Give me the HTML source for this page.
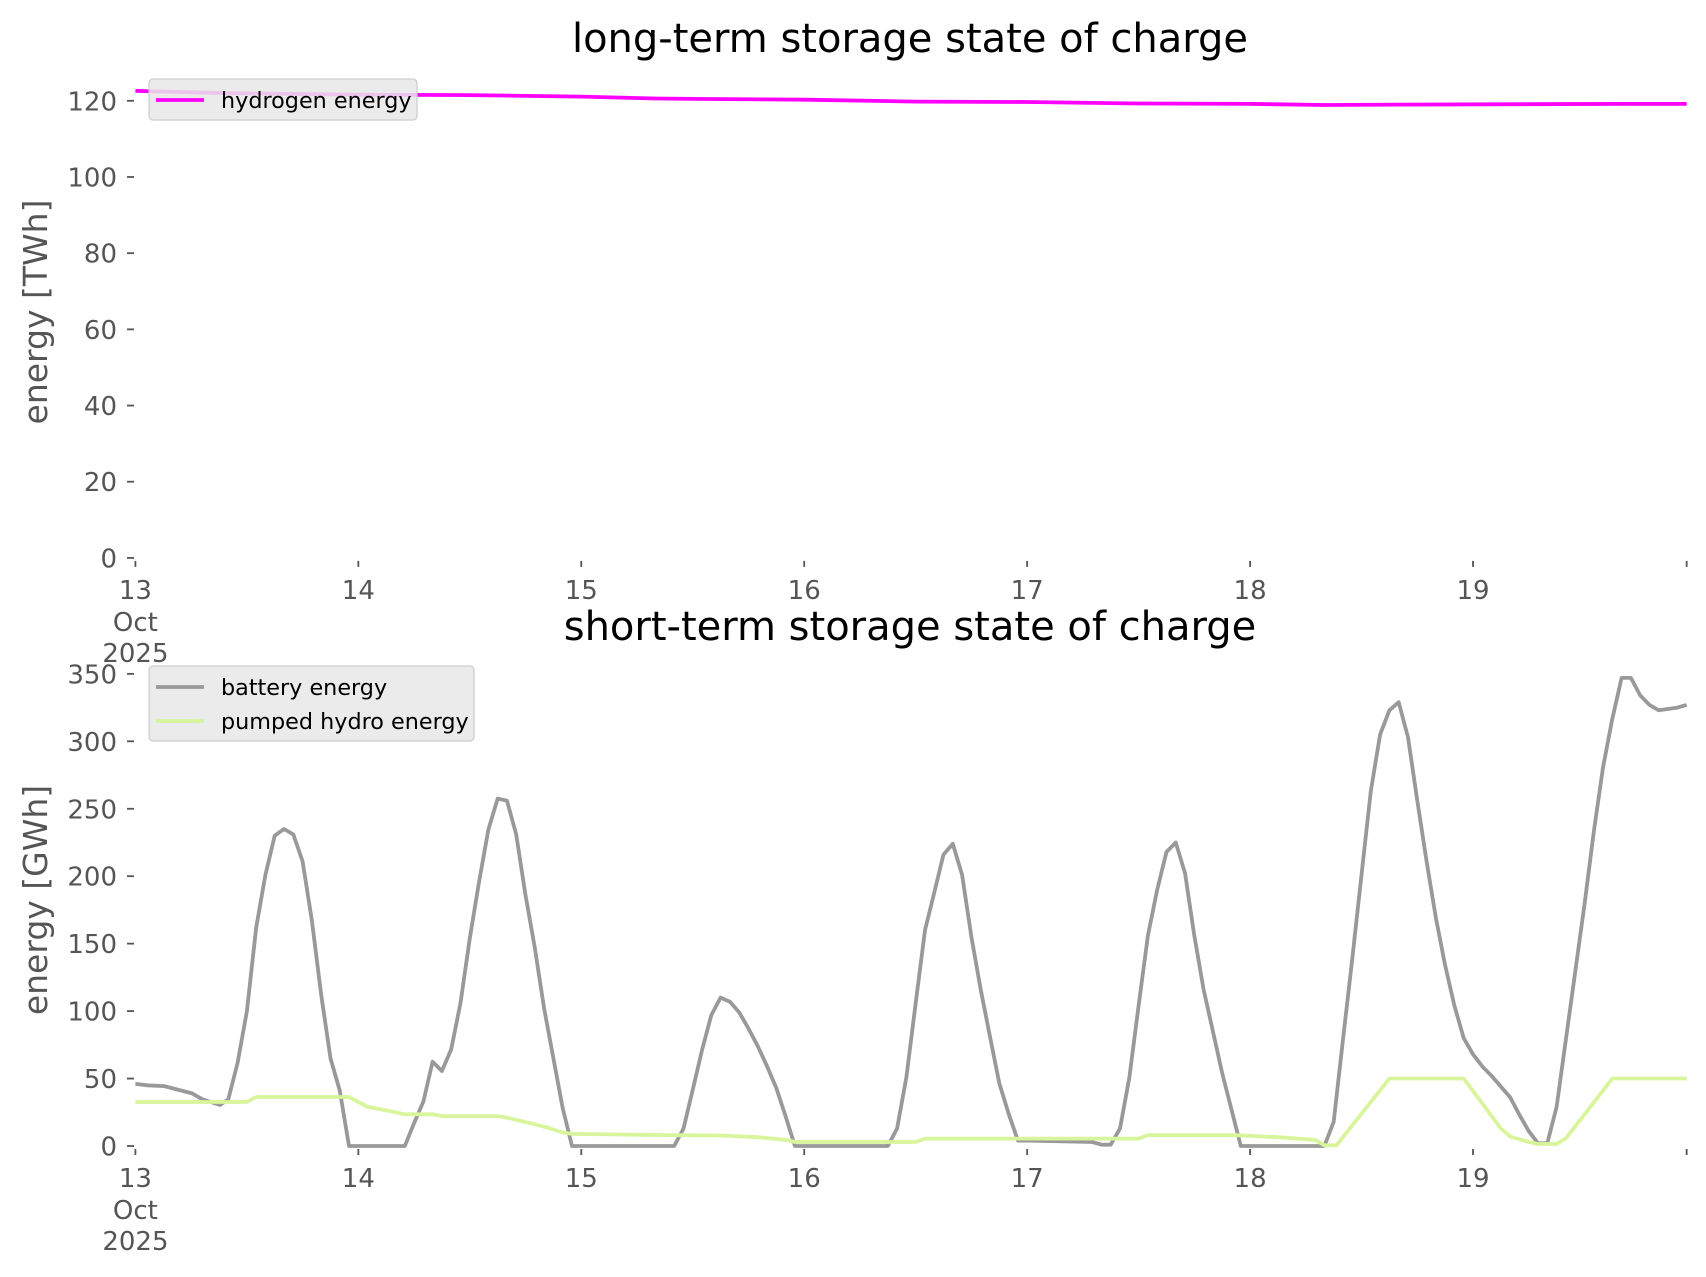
<!DOCTYPE html>
<html><head><meta charset="utf-8">
<style>
html,body{margin:0;padding:0;background:#fff;}
svg{display:block;font-family:"DejaVu Sans","Liberation Sans",sans-serif;}
</style></head>
<body>
<svg id="fig" width="1706" height="1277" viewBox="0 0 1706 1277" xmlns="http://www.w3.org/2000/svg">
<rect width="1706" height="1277" fill="#fff"/>
<text x="910" y="52" font-size="40" text-anchor="middle" fill="#000">long-term storage state of charge</text>
<text x="910" y="640" font-size="40" text-anchor="middle" fill="#000">short-term storage state of charge</text>
<text transform="translate(47,312) rotate(-90)" font-size="33" text-anchor="middle" fill="#555">energy [TWh]</text>
<text transform="translate(47,900) rotate(-90)" font-size="33" text-anchor="middle" fill="#555">energy [GWh]</text>
<g id="top"></g>
<g id="bottom"></g>
</svg>
<script>
// ---- data ----
const dayLabels = ["13","14","15","16","17","18","19"];
const topTicks = [0,20,40,60,80,100,120];
const bottomTicks = [0,50,100,150,200,250,300,350];
const hydroHours = [0,10,24,36,48,56,60,72,84,96,108,120,128,136,150,160,167];
const hydrogenValues = [122.6,122.0,121.6,121.5,121.1,120.6,120.5,120.3,119.8,119.7,119.3,119.2,118.9,119.0,119.1,119.2,119.2];
const batteryHours = [0,1.3,3.1,6.1,7.2,9.1,10,11,12,13,14,15,16,17,18,19,20,21,22,23,29,30,31,32,33,34,35,36,37,38,39,40,41,42,43,44,45,46,47,58,59,60,61,62,63,64,65,66,67,68,69,70,71,81,82,83,84,85,86,87,88,89,90,91,92,93,94,95,96,103,104,105,106,107,108,109,110,111,112,113,114,115,116,117,118,119,128,129,130,131,132,133,134,135,136,137,138,139,140,141,142,143,144,145,146,147,148,149,150,151,152,153,154,155,156,157,158,159,160,161,162,163,164,166,167];
const batteryValues = [46,45,44.4,39,34.6,30.4,34.6,61.7,100,162,201,230,235,231,211,167,112,65,41,0,0,17,33,62.5,55.6,71.6,106,154,196,234.6,257.5,256,231,186,147,102,65,28,0,0,13,41.6,71,97,110,107,99,87,74,59,43,22,0,0,13,51,106,160,188,216,224,201,155,116,81,46.5,24,4,4,3,1,1,13,50.5,104,156,190,218,225,202,156,116,85,54,27,0,0,18,79,139,201,263,305,323,329,303,256,211,169,134,104,80,68,59,52,44,36,23,11,2,2,29,79,129,179,233,281,317,347,347,334,327,323,325,327];
const pumpedHours = [0,12,13,23,25,27.3,29,32,33,39,40,42.3,44.4,46,47,58,63,67,70,71,84,85,108,109,118.5,123,127,128,129.3,135,143,147,148,150,151,153,154,159,167];
const pumpedValues = [32.6,32.6,36.3,36.3,29,26,23.5,23.5,22.2,22.2,21,17.3,13.6,10,9,8,7.8,6.5,4.5,3,3,5.5,5.5,8,8,6.5,4.5,0.5,0.5,50,50,13,7,3,1.5,1.5,5.7,50,50];

// ---- axes ----
const NS = "http://www.w3.org/2000/svg";
const X0 = 135.4, PXH = 9.289, XMAX = 167;
const xAt = h => X0 + h * PXH;
const topY = v => 557.9 - v * 3.809;
const botY = v => 1146.0 - v * 1.349;

function mk(tag, attrs, parent){
  const e = document.createElementNS(NS, tag);
  for (const k in attrs) e.setAttribute(k, attrs[k]);
  parent.appendChild(e); return e;
}

function axes(g, yfun, ticks, zeroY, name){
  ticks.forEach(t => {
    const y = yfun(t);
    const tk = mk("line", {x1:127, x2:134, y1:y, y2:y, stroke:"#555", "stroke-width":1.8}, g);
    
    
    const lb = mk("text", {x:117, y:y+9.5, "font-size":26, "text-anchor":"end", fill:"#555"}, g);
    lb.textContent = t;
    
    
  });
  const xs = dayLabels.map((d,i)=>i*24).concat([XMAX]);
  xs.forEach((h,i) => {
    const x = xAt(h);
    const tk = mk("line", {x1:x, x2:x, y1:zeroY+3, y2:zeroY+9, stroke:"#555", "stroke-width":1.8}, g);
    
    
    if (i < dayLabels.length) {
      const lb = mk("text", {x:x, y:zeroY+41, "font-size":26, "text-anchor":"middle", fill:"#555"}, g);
      lb.textContent = dayLabels[i];
      
      
      if (i === 0) {
        const l2 = mk("text", {x:x, y:zeroY+73, "font-size":26, "text-anchor":"middle", fill:"#555"}, g);
        l2.textContent = "Oct";
        
        
        const l3 = mk("text", {x:x, y:zeroY+104, "font-size":26, "text-anchor":"middle", fill:"#555"}, g);
        l3.textContent = "2025";
        
        
      }
    }
  });
}

function series(g, hours, vals, yfun, color, name){
  const d = hours.map((h,i)=>(i?"L":"M")+xAt(h).toFixed(1)+","+yfun(vals[i]).toFixed(1)).join(" ");
  const p = mk("path", {d:d, fill:"none", stroke:color, "stroke-width":3.8, "stroke-linejoin":"round"}, g);
  
  
}

function legend(g, x, y, w, h, entries, name){
  const box = mk("rect", {x:x, y:y, width:w, height:h, rx:4, fill:"#e8e8e8", "fill-opacity":0.85, stroke:"#cccccc", "stroke-width":1.2}, g);
  
  
  entries.forEach((en,i) => {
    const cy = y + 21 + i*34;
    const ln = mk("line", {x1:x+7, x2:x+55, y1:cy, y2:cy, stroke:en[1], "stroke-width":3.8}, g);
    
    
    const tx = mk("text", {x:x+72, y:cy+8, "font-size":22.3, fill:"#000"}, g);
    tx.textContent = en[0];
    
    
  });
}

const gt = document.getElementById("top");
const gb = document.getElementById("bottom");
axes(gt, topY, topTicks, 557.9, "top");
axes(gb, botY, bottomTicks, 1146.0, "bottom");
series(gt, hydroHours, hydrogenValues, topY, "#ff00ff", "hydrogen-energy-line");
series(gb, batteryHours, batteryValues, botY, "#999999", "battery-energy-line");
series(gb, pumpedHours, pumpedValues, botY, "#d8f59c", "pumped-hydro-energy-line");
legend(gt, 149, 79, 268, 41, [["hydrogen energy","#ff00ff","hydrogen"]], "top-legend");
legend(gb, 149, 666, 325, 75, [["battery energy","#999999","battery"],["pumped hydro energy","#d8f59c","pumped-hydro"]], "bottom-legend");
</script>
</body></html>
